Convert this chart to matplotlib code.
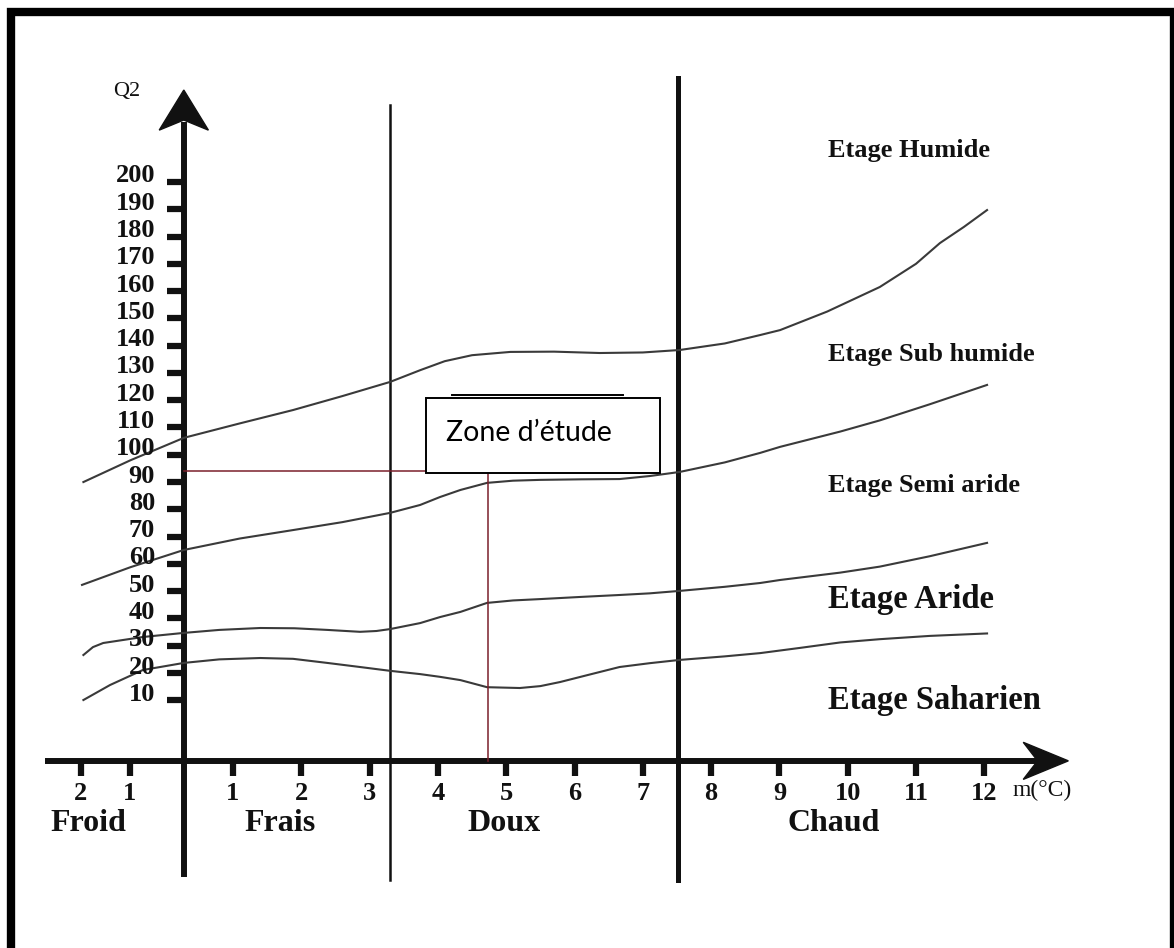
import matplotlib
matplotlib.use("Agg")
import matplotlib.pyplot as plt
from matplotlib.patches import Rectangle, Polygon

# Climagramme d'Emberger : limites des etages (m en degres C, Q2)
m_humide = [-1.19, -0.5, 0.28, 1.1, 1.88, 2.6, 3.3, 3.74, 4.1, 4.5, 5.06, 5.7, 6.37, 7.0,
            7.54, 8.2, 8.72, 9.01, 9.7, 10.47, 11.0, 11.35, 11.7, 12.04]
q_humide = [90, 98, 106.2, 111.5, 116.4, 121.5, 126.7, 131, 134.3, 136.5, 137.7, 137.8, 137.3, 137.5,
            138.4, 140.8, 143.9, 145.7, 152.5, 161.5, 170, 177.6, 183.5, 189.7]

m_subhum = [-1.21, -0.5, 0.28, 1.1, 1.88, 2.6, 3.3, 3.74, 4.03, 4.33, 4.72, 5.1, 5.5, 6.1,
            6.66, 7.1, 7.54, 8.2, 8.72, 9.01, 9.89, 10.47, 11.2, 12.04]
q_subhum = [52.3, 58.8, 65.1, 69.3, 72.4, 75.3, 78.7, 81.6, 84.5, 87.1, 89.7, 90.5, 90.8, 91,
            91.1, 92.2, 93.7, 97.2, 100.7, 102.9, 108.5, 112.6, 118.5, 125.6]

m_semi = [-1.19, -1.05, -0.9, -0.32, 0.28, 0.8, 1.4, 1.9, 2.38, 2.86, 3.1, 3.3, 3.74, 4.03, 4.33,
          4.72, 5.1, 5.5, 6.1, 6.66, 7.1, 7.54, 8.2, 8.72, 9.01, 9.89, 10.47, 11.2, 12.04]
q_semi = [26.6, 29.5, 31, 33.2, 34.7, 35.8, 36.5, 36.4, 35.8, 35.1, 35.4, 36.1, 38.3, 40.5, 42.4,
          45.7, 46.6, 47.1, 47.9, 48.6, 49.2, 50.1, 51.6, 53, 54.1, 56.8, 59, 62.8, 67.7]

m_aride = [-1.19, -0.8, -0.32, 0.28, 0.8, 1.4, 1.88, 2.38, 2.86, 3.3, 3.74, 4.03, 4.33, 4.72,
           5.2, 5.5, 5.79, 6.2, 6.66, 7.1, 7.54, 8.2, 8.72, 9.3, 9.89, 10.47, 11.2, 12.04]
q_aride = [10.1, 15.6, 21.1, 23.7, 25, 25.5, 25.2, 23.7, 22.2, 20.8, 19.6, 18.6, 17.4, 14.8,
           14.5, 15.2, 16.7, 19.3, 22.2, 23.6, 24.8, 26.1, 27.3, 29.2, 31.2, 32.4, 33.6, 34.5]

y_ticks = list(range(10, 201, 10))
x_tick_pos = [-1.23, -0.51, 1, 2, 3, 4, 5, 6, 7, 8, 9, 10, 11, 12]
x_tick_lab = ["2", "1", "1", "2", "3", "4", "5", "6", "7", "8", "9", "10", "11", "12"]

zones = ["Froid", "Frais", "Doux", "Chaud"]
zones_m = [-1.11, 1.69, 4.97, 9.79]

etages = ["Etage Humide", "Etage Sub humide", "Etage Semi aride", "Etage Aride", "Etage Saharien"]
etages_q2 = [211.7, 136.6, 88.9, 46.8, 10.1]
etages_taille = [19, 19, 19, 23.5, 23.5]

# zone d'etude
station_m = 4.73
station_q2 = 94.1

axe_y_m = 0.28
axe_x_q2 = -12.2
lim_frais_doux = 3.3
lim_doux_chaud = 7.52

serif = "Liberation Serif"
noir = "#111111"

fig = plt.figure(figsize=(11.74, 9.48), dpi=100)
ax = fig.add_axes([0, 0, 1, 1])
ax.set_xlim(-2.411, 14.777)
ax.set_ylim(-80.8, 266.7)
ax.axis("off")

# cadre exterieur
fig.add_artist(Rectangle((11 / 1174, -0.05), (1174 - 11) / 1174, 1.05 - 12.5 / 948,
                         transform=fig.transFigure, fill=False, lw=6, ec="black"))

# axes
ax.plot([axe_y_m, axe_y_m], [-54.8, 222], color=noir, lw=4.3, solid_capstyle="butt")
ax.add_patch(Polygon([(axe_y_m - 0.36, 219), (axe_y_m, 233.7), (axe_y_m + 0.36, 219), (axe_y_m, 222.7)],
                     closed=True, color=noir))
ax.plot([-1.75, 12.8], [axe_x_q2, axe_x_q2], color=noir, lw=4.3, solid_capstyle="butt")
ax.add_patch(Polygon([(12.57, axe_x_q2 + 6.8), (13.23, axe_x_q2), (12.57, axe_x_q2 - 6.8), (12.78, axe_x_q2)],
                     closed=True, color=noir))

# graduations
ax.hlines(y_ticks, 0.03, axe_y_m, color=noir, lw=4.5)
for v in y_ticks:
    ax.text(-0.14, v + 2.2, str(v), ha="right", va="center", fontsize=19,
            fontweight="bold", family=serif, color=noir)
ax.vlines(x_tick_pos, -17.8, axe_x_q2, color=noir, lw=4.5)
for p, lab in zip(x_tick_pos, x_tick_lab):
    ax.text(p, -24, lab, ha="center", va="center", fontsize=19,
            fontweight="bold", family=serif, color=noir)

ax.text(-0.55, 233, "Q2", ha="center", va="center", fontsize=16, family=serif, color=noir)
ax.text(12.85, -23.2, "m(°C)", ha="center", va="center", fontsize=17, family=serif, color=noir)

for z, m in zip(zones, zones_m):
    ax.text(m, -35.3, z, ha="center", va="center", fontsize=23,
            fontweight="bold", family=serif, color=noir)

# limites thermiques
ax.plot([lim_frais_doux, lim_frais_doux], [-55.9, 228.2], color=noir, lw=1.8)
ax.plot([lim_doux_chaud, lim_doux_chaud], [-55.9, 238], color=noir, lw=3.6)

# courbes des etages
for mm, qq in [(m_humide, q_humide), (m_subhum, q_subhum), (m_semi, q_semi), (m_aride, q_aride)]:
    ax.plot(mm, qq, color="#3a3a3a", lw=1.5)

for e, q, t in zip(etages, etages_q2, etages_taille):
    ax.text(9.71, q, e, ha="left", va="center", fontsize=t,
            fontweight="bold", family=serif, color=noir)

# position de la zone d'etude
rouge = "#7a1f2b"
ax.plot([axe_y_m, station_m], [station_q2, station_q2], color=rouge, lw=1.1, zorder=3)
ax.plot([station_m, station_m], [axe_x_q2, station_q2], color=rouge, lw=1.1, zorder=3)

ax.add_patch(Rectangle((3.826, 93.33), 7.252 - 3.826, 120.8 - 93.33,
                       facecolor="white", edgecolor="black", lw=1.4, zorder=4))
ax.plot([4.21, 6.71], [121.9, 121.9], color="black", lw=1.4, zorder=4)
ax.text(4.12, 107.8, "Zone d’étude", ha="left", va="center", fontsize=20.5,
        family=["Lato", "DejaVu Sans"], color="black", zorder=5)

fig.savefig("out.png", dpi=100)
